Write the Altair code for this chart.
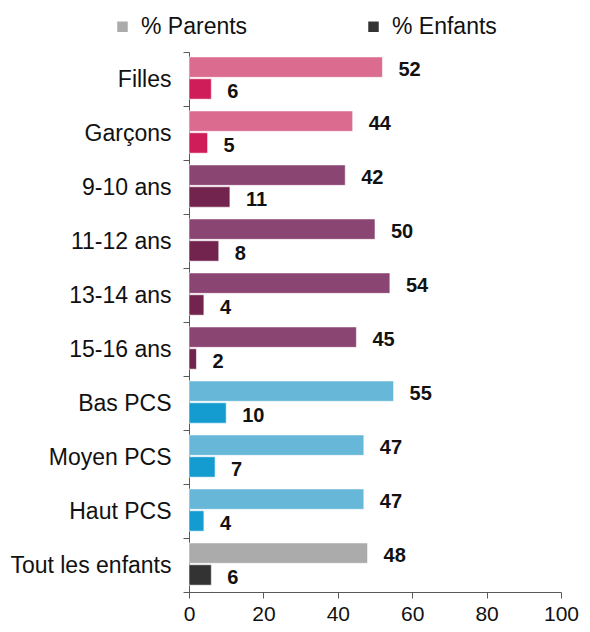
import altair as alt
import pandas as pd

categories = ["Filles", "Garçons", "9-10 ans", "11-12 ans", "13-14 ans", "15-16 ans",
              "Bas PCS", "Moyen PCS", "Haut PCS", "Tout les enfants"]
parents = [52, 44, 42, 50, 54, 45, 55, 47, 47, 48]
enfants = [6, 5, 11, 8, 4, 2, 10, 7, 4, 6]
parent_colors = ["#DB6C90", "#DB6C90", "#8B4573", "#8B4573", "#8B4573", "#8B4573",
                 "#67B8D8", "#67B8D8", "#67B8D8", "#ABABAB"]
enfant_colors = ["#CF1D5A", "#CF1D5A", "#72244E", "#72244E", "#72244E", "#72244E",
                 "#149BD0", "#149BD0", "#149BD0", "#333333"]
series = ["% Parents", "% Enfants"]
legend_colors = ["#ABABAB", "#333333"]

rows = []
for c, p, e, pc, ec in zip(categories, parents, enfants, parent_colors, enfant_colors):
    rows.append({"cat": c, "series": series[0], "value": p, "hex": pc})
    rows.append({"cat": c, "series": series[1], "value": e, "hex": ec})
df = pd.DataFrame(rows)
legend_df = pd.DataFrame({"series": series})

FONT = "Liberation Sans"

y_enc = alt.Y("cat:N", sort=categories, title=None,
              scale=alt.Scale(paddingInner=0, paddingOuter=0),
              axis=alt.Axis(tickBand="extent", labelFontSize=23, labelFont=FONT,
                            labelColor="#111111", labelPadding=12, tickSize=6,
                            tickColor="#595959", domainColor="#595959", labelLimit=300))
yoff = alt.YOffset("series:N", sort=series,
                   scale=alt.Scale(paddingInner=0.065, paddingOuter=0.27, align=0.42))

bars = alt.Chart(df).mark_bar(stroke="white", strokeWidth=0.8, strokeOpacity=0.7).encode(
    x=alt.X("value:Q", title=None,
            scale=alt.Scale(domain=[0, 100], nice=False),
            axis=alt.Axis(values=[0, 20, 40, 60, 80, 100], grid=False, labelFontSize=21,
                          labelFont=FONT, labelColor="#111111", tickSize=6,
                          tickColor="#595959", domainColor="#595959", labelPadding=5,
                          labelFlush=False)),
    y=y_enc,
    yOffset=yoff,
    color=alt.Color("hex:N", scale=None),
)

labels = alt.Chart(df).mark_text(align="left", baseline="middle", dx=16, dy=3,
                                 fontSize=20, fontWeight="bold", font=FONT,
                                 color="#111111").encode(
    x="value:Q",
    y=alt.Y("cat:N", sort=categories),
    yOffset=yoff,
    text="value:Q",
)

legend_layer = alt.Chart(legend_df).mark_rect().encode(
    x=alt.value(0), x2=alt.value(0), y=alt.value(0), y2=alt.value(0),
    fill=alt.Fill("series:N", sort=series,
                  scale=alt.Scale(domain=series, range=legend_colors),
                  legend=alt.Legend(title=None, orient="none", direction="horizontal",
                                    legendX=-78, legendY=-37, symbolType="square",
                                    symbolSize=110, symbolStrokeWidth=0,
                                    labelFontSize=23, labelFont=FONT,
                                    labelColor="#111111", labelOffset=7,
                                    columnPadding=114)),
)

chart = alt.layer(bars, labels, legend_layer).properties(
    width=372, height=540,
    autosize=alt.AutoSizeParams(type="none"),
    padding={"left": 181, "top": 44, "right": 21, "bottom": 32},
    background="white",
).configure_view(stroke=None)

chart.save("out.html", embed_options={"renderer": "svg", "actions": False})
